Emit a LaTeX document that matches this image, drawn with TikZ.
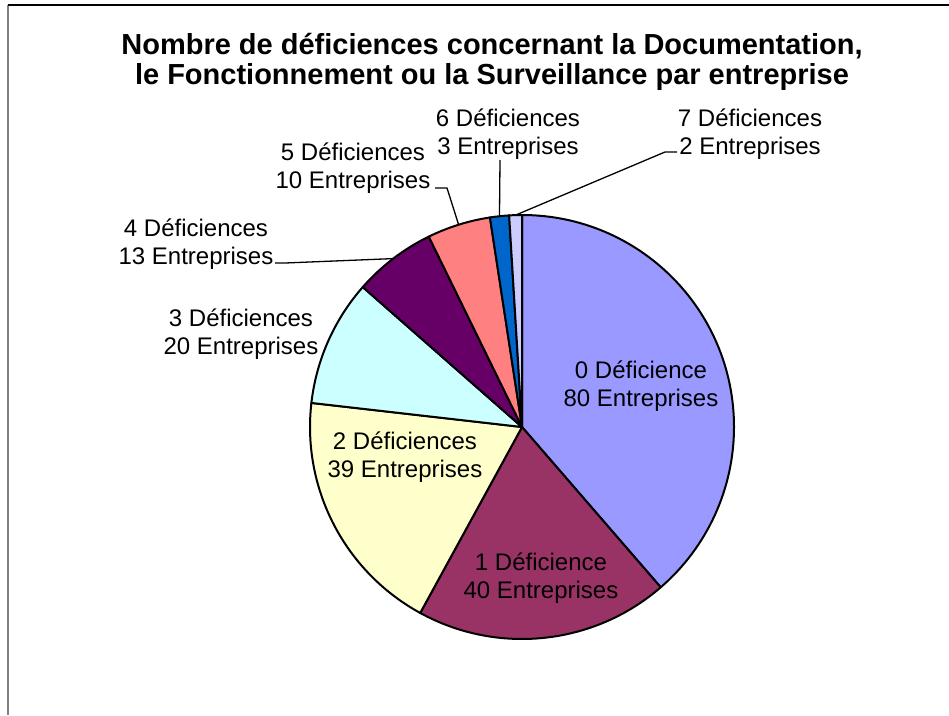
\documentclass[tikz,border=0pt]{standalone}
\usepackage{fontspec}
\setmainfont{Liberation Sans}
\definecolor{c0}{HTML}{9999FF}
\definecolor{c1}{HTML}{993366}
\definecolor{c2}{HTML}{FFFFCC}
\definecolor{c3}{HTML}{CCFFFF}
\definecolor{c4}{HTML}{660066}
\definecolor{c5}{HTML}{FF8080}
\definecolor{c6}{HTML}{0066CC}
\definecolor{c7}{HTML}{CCCCFF}
\definecolor{framegray}{HTML}{808080}
\begin{document}
\begin{tikzpicture}[x=1pt,y=1pt,line join=round,
  slice/.style={draw=black,line width=2pt},
  lbl/.style={font=\fontsize{24}{28}\selectfont,align=center,inner sep=0pt},
  leader/.style={draw=black,line width=1.3pt},
  titlestyle/.style={font=\bfseries\fontsize{29}{30.5}\selectfont,align=center,inner sep=0pt}]
\useasboundingbox (0,0) rectangle (949,-715);
% frame
\draw[framegray,line width=2.2pt] (8,-5) -- (8,-715);
\draw[black,line width=1.2pt] (8,-5) -- (949,-5);
% title
\node[titlestyle] (title) at (492,-62) {Nombre de déficiences concernant la Documentation,\\le Fonctionnement ou la Surveillance par entreprise};
% pie
\coordinate (c) at (522,-427);
\filldraw[slice,fill=c0] (c) -- ++(90:212) arc[start angle=90,end angle=-49.13,radius=212] -- cycle;
\filldraw[slice,fill=c1] (c) -- ++(-49.13:212) arc[start angle=-49.13,end angle=-118.70,radius=212] -- cycle;
\filldraw[slice,fill=c2] (c) -- ++(-118.70:212) arc[start angle=-118.70,end angle=-186.52,radius=212] -- cycle;
\filldraw[slice,fill=c3] (c) -- ++(-186.52:212) arc[start angle=-186.52,end angle=-221.30,radius=212] -- cycle;
\filldraw[slice,fill=c4] (c) -- ++(-221.30:212) arc[start angle=-221.30,end angle=-243.91,radius=212] -- cycle;
\filldraw[slice,fill=c5] (c) -- ++(-243.91:212) arc[start angle=-243.91,end angle=-261.30,radius=212] -- cycle;
\filldraw[slice,fill=c6] (c) -- ++(-261.30:212) arc[start angle=-261.30,end angle=-266.52,radius=212] -- cycle;
\filldraw[slice,fill=c7] (c) -- ++(-266.52:212) arc[start angle=-266.52,end angle=-270,radius=212] -- cycle;
% edge points for leaders
\path (c) ++(127.4:212) coordinate (e4);
\path (c) ++(107.4:212) coordinate (e5);
\path (c) ++(96.1:212) coordinate (e6);
\path (c) ++(91.74:212) coordinate (e7);
% labels
\node[lbl] (l0) at (641,-386) {0 Déficience\\80 Entreprises};
\node[lbl] (l1) at (541,-578) {1 Déficience\\40 Entreprises};
\node[lbl] (l2) at (405,-457) {2 Déficiences\\39 Entreprises};
\node[lbl] (l3) at (241,-334) {3 Déficiences\\20 Entreprises};
\node[lbl] (l4) at (196,-244) {4 Déficiences\\13 Entreprises};
\node[lbl] (l5) at (353,-168) {5 Déficiences\\10 Entreprises};
\node[lbl] (l6) at (508,-134) {6 Déficiences\\3 Entreprises};
\node[lbl] (l7) at (750,-134) {7 Déficiences\\2 Entreprises};
% leader lines
\coordinate (s4) at (275,-263);
\coordinate (s5) at (435,-188);
\coordinate (s6) at (500,-160);
\coordinate (s7) at (677,-152);
\draw[leader] (s4) -- ++(10,0) -- (e4);
\draw[leader] (s5) -- ++(12,0) -- (e5);
\draw[leader] (s6) -- (e6);
\draw[leader] (s7) -- ++(-12,0) -- (e7);
\end{tikzpicture}
\end{document}
